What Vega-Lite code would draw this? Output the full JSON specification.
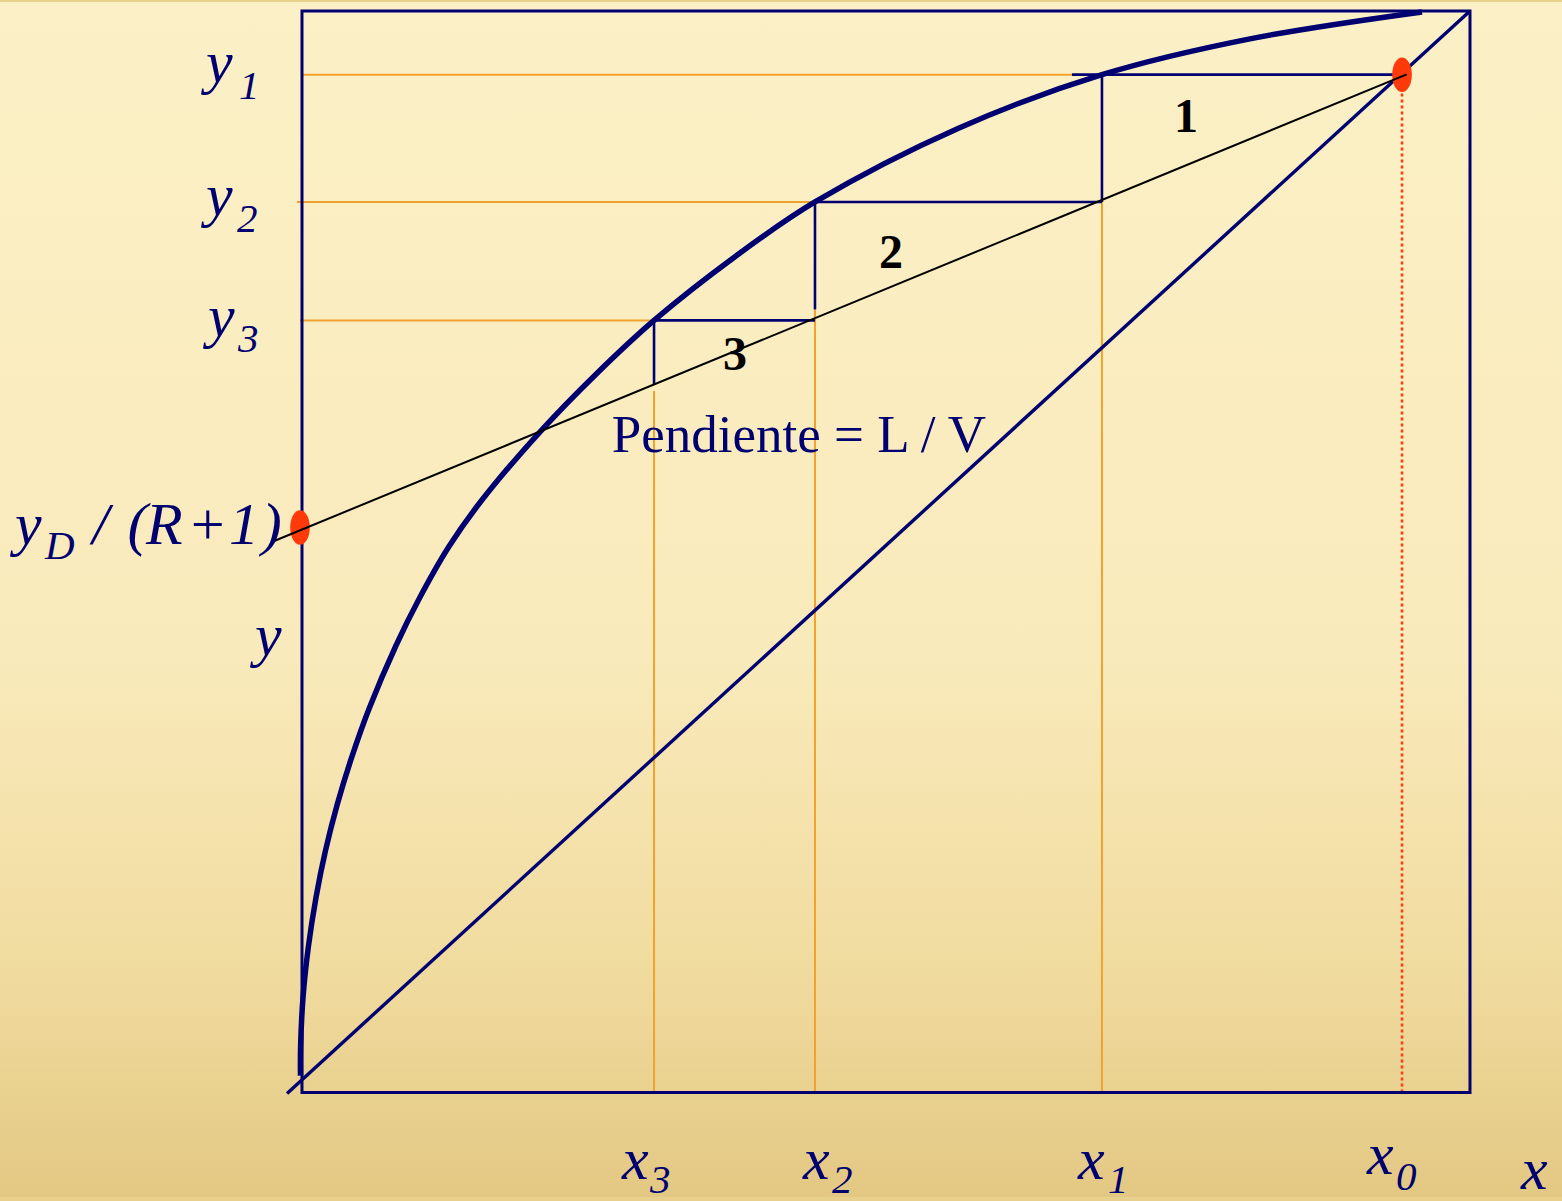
{
  "$schema": "https://vega.github.io/schema/vega-lite/v6.json",
  "width": 1562,
  "height": 1201,
  "padding": 0,
  "autosize": {"type": "fit", "contains": "padding"},
  "background": "#E8D08C",
  "config": {
    "view": {
      "stroke": null,
      "fill": {
        "gradient": "linear",
        "x1": 0, "y1": 0, "x2": 0, "y2": 1,
        "stops": [
          {"offset": 0, "color": "#FBF0C6"},
          {"offset": 0.55, "color": "#F9EABB"},
          {"offset": 0.8, "color": "#F1DCA0"},
          {"offset": 1, "color": "#E3C883"}
        ]
      }
    }
  },
  "datasets": {
    "frame": [{"x": 0, "x2": 1, "y": 0, "y2": 1}],
    "guides": [
      {"x": 0.0009, "x2": 0.6592, "y": 0.9411, "y2": 0.9411},
      {"x": -0.0043, "x2": 0.4392, "y": 0.8234, "y2": 0.8234},
      {"x": -0.0017, "x2": 0.3014, "y": 0.7139, "y2": 0.7139},
      {"x": 0.6849, "x2": 0.6849, "y": 0, "y2": 0.8234},
      {"x": 0.4392, "x2": 0.4392, "y": 0, "y2": 0.724},
      {"x": 0.3014, "x2": 0.3014, "y": 0, "y2": 0.6486}
    ],
    "feed": [{"x": 0.9418, "x2": 0.9418, "y": 0, "y2": 0.9411}],
    "diagonal": [
      {"x": -0.0128, "y": -0.0009},
      {"x": 1, "y": 1}
    ],
    "stages": [
      {"x": 0.6592, "x2": 0.9418, "y": 0.9411, "y2": 0.9411},
      {"x": 0.6849, "x2": 0.6849, "y": 0.8234, "y2": 0.9411},
      {"x": 0.4392, "x2": 0.6849, "y": 0.8234, "y2": 0.8234},
      {"x": 0.4392, "x2": 0.4392, "y": 0.724, "y2": 0.8234},
      {"x": 0.3014, "x2": 0.4392, "y": 0.7139, "y2": 0.7139},
      {"x": 0.3014, "x2": 0.3014, "y": 0.655, "y2": 0.7139}
    ],
    "operating": [
      {"x": -0.0259, "y": 0.509},
      {"x": 0.9458, "y": 0.9414}
    ],
    "equilibrium": [
      {"x": -0.0013, "y": 0.0156},
      {"x": -0.0012, "y": 0.0423},
      {"x": 0.0009, "y": 0.0883},
      {"x": 0.0054, "y": 0.1343},
      {"x": 0.012, "y": 0.1803},
      {"x": 0.0201, "y": 0.2236},
      {"x": 0.0301, "y": 0.2661},
      {"x": 0.0423, "y": 0.3091},
      {"x": 0.0575, "y": 0.3551},
      {"x": 0.0805, "y": 0.4133},
      {"x": 0.1002, "y": 0.4563},
      {"x": 0.1254, "y": 0.5041},
      {"x": 0.1524, "y": 0.5455},
      {"x": 0.2038, "y": 0.6109},
      {"x": 0.2526, "y": 0.6651},
      {"x": 0.3014, "y": 0.7139},
      {"x": 0.3707, "y": 0.7728},
      {"x": 0.4392, "y": 0.8234},
      {"x": 0.5616, "y": 0.8914},
      {"x": 0.6849, "y": 0.9411},
      {"x": 0.8116, "y": 0.9742},
      {"x": 0.9589, "y": 0.9991}
    ],
    "points": [
      {"x": 0.9418, "y": 0.9411},
      {"x": -0.0017, "y": 0.5225}
    ],
    "labels": [
      {"t": "y", "x": -0.0822, "y": 0.9347},
      {"t": "y", "x": -0.0822, "y": 0.8114},
      {"t": "y", "x": -0.0805, "y": 0.6992},
      {"t": "y", "x": -0.2457, "y": 0.5069},
      {"t": "/", "x": -0.1795, "y": 0.5069},
      {"t": "(", "x": -0.1495, "y": 0.5069},
      {"t": "R", "x": -0.1336, "y": 0.5069},
      {"t": "+", "x": -0.0985, "y": 0.5069},
      {"t": "1", "x": -0.0625, "y": 0.5069},
      {"t": ")", "x": -0.0345, "y": 0.5069},
      {"t": "y", "x": -0.0402, "y": 0.4048},
      {"t": "x", "x": 0.274, "y": -0.08},
      {"t": "x", "x": 0.4289, "y": -0.08},
      {"t": "x", "x": 0.6644, "y": -0.08},
      {"t": "x", "x": 0.9118, "y": -0.0754},
      {"t": "x", "x": 1.0437, "y": -0.0892}
    ],
    "subscripts": [
      {"t": "1", "x": -0.0539, "y": 0.919},
      {"t": "2", "x": -0.0557, "y": 0.7958},
      {"t": "3", "x": -0.0548, "y": 0.6845},
      {"t": "D", "x": -0.22, "y": 0.4931},
      {"t": "3", "x": 0.2979, "y": -0.0929},
      {"t": "2", "x": 0.4538, "y": -0.0929},
      {"t": "1", "x": 0.6901, "y": -0.0929},
      {"t": "0", "x": 0.9366, "y": -0.0902}
    ],
    "slope": [{"t": "Pendiente = L / V", "x": 0.4255, "y": 0.5925}],
    "stageNumbers": [
      {"t": "1", "x": 0.7568, "y": 0.8878},
      {"t": "2", "x": 0.5043, "y": 0.7627},
      {"t": "3", "x": 0.3707, "y": 0.6679}
    ]
  },
  "encoding": {
    "x": {
      "field": "x",
      "type": "quantitative",
      "scale": {"domain": [-0.25856, 1.07877], "nice": false, "zero": false},
      "axis": null
    },
    "y": {
      "field": "y",
      "type": "quantitative",
      "scale": {"domain": [-0.0966, 1.00828], "nice": false, "zero": false},
      "axis": null
    }
  },
  "layer": [
    {
      "data": {"name": "guides"},
      "mark": {"type": "rule", "color": "#F2A22C", "strokeWidth": 2},
      "encoding": {"x2": {"field": "x2"}, "y2": {"field": "y2"}}
    },
    {
      "data": {"name": "feed"},
      "mark": {"type": "rule", "color": "#FF3A14", "strokeWidth": 2.5, "strokeDash": [3, 3]},
      "encoding": {"x2": {"field": "x2"}, "y2": {"field": "y2"}}
    },
    {
      "data": {"name": "diagonal"},
      "mark": {"type": "line", "color": "#000070", "strokeWidth": 3.4}
    },
    {
      "data": {"name": "stages"},
      "mark": {"type": "rule", "color": "#000070", "strokeWidth": 2.6},
      "encoding": {"x2": {"field": "x2"}, "y2": {"field": "y2"}}
    },
    {
      "data": {"name": "equilibrium"},
      "mark": {"type": "line", "color": "#000070", "strokeWidth": 5.5, "interpolate": "catmull-rom", "strokeCap": "butt"}
    },
    {
      "data": {"name": "frame"},
      "mark": {"type": "rect", "fill": null, "stroke": "#000070", "strokeWidth": 3},
      "encoding": {"x2": {"field": "x2"}, "y2": {"field": "y2"}}
    },
    {
      "data": {"name": "points"},
      "mark": {
        "type": "point",
        "filled": true,
        "opacity": 1,
        "color": "#FF3A0A",
        "shape": "M-0.57,0A0.57,1,0,1,0,0.57,0A0.57,1,0,1,0,-0.57,0Z",
        "size": 1190
      }
    },
    {
      "data": {"name": "operating"},
      "mark": {"type": "line", "color": "#000000", "strokeWidth": 2}
    },
    {
      "data": {"name": "labels"},
      "mark": {
        "type": "text",
        "font": "Liberation Serif",
        "fontStyle": "italic",
        "fontSize": 60,
        "color": "#000070",
        "align": "left",
        "baseline": "alphabetic"
      },
      "encoding": {"text": {"field": "t"}}
    },
    {
      "data": {"name": "subscripts"},
      "mark": {
        "type": "text",
        "font": "Liberation Serif",
        "fontStyle": "italic",
        "fontSize": 41,
        "color": "#000070",
        "align": "left",
        "baseline": "alphabetic"
      },
      "encoding": {"text": {"field": "t"}}
    },
    {
      "data": {"name": "slope"},
      "mark": {
        "type": "text",
        "font": "Liberation Serif",
        "fontSize": 53,
        "color": "#000070",
        "align": "center",
        "baseline": "alphabetic"
      },
      "encoding": {"text": {"field": "t"}}
    },
    {
      "data": {"name": "stageNumbers"},
      "mark": {
        "type": "text",
        "font": "Liberation Serif",
        "fontWeight": "bold",
        "fontSize": 48,
        "color": "#000000",
        "align": "center",
        "baseline": "alphabetic"
      },
      "encoding": {"text": {"field": "t"}}
    }
  ]
}
